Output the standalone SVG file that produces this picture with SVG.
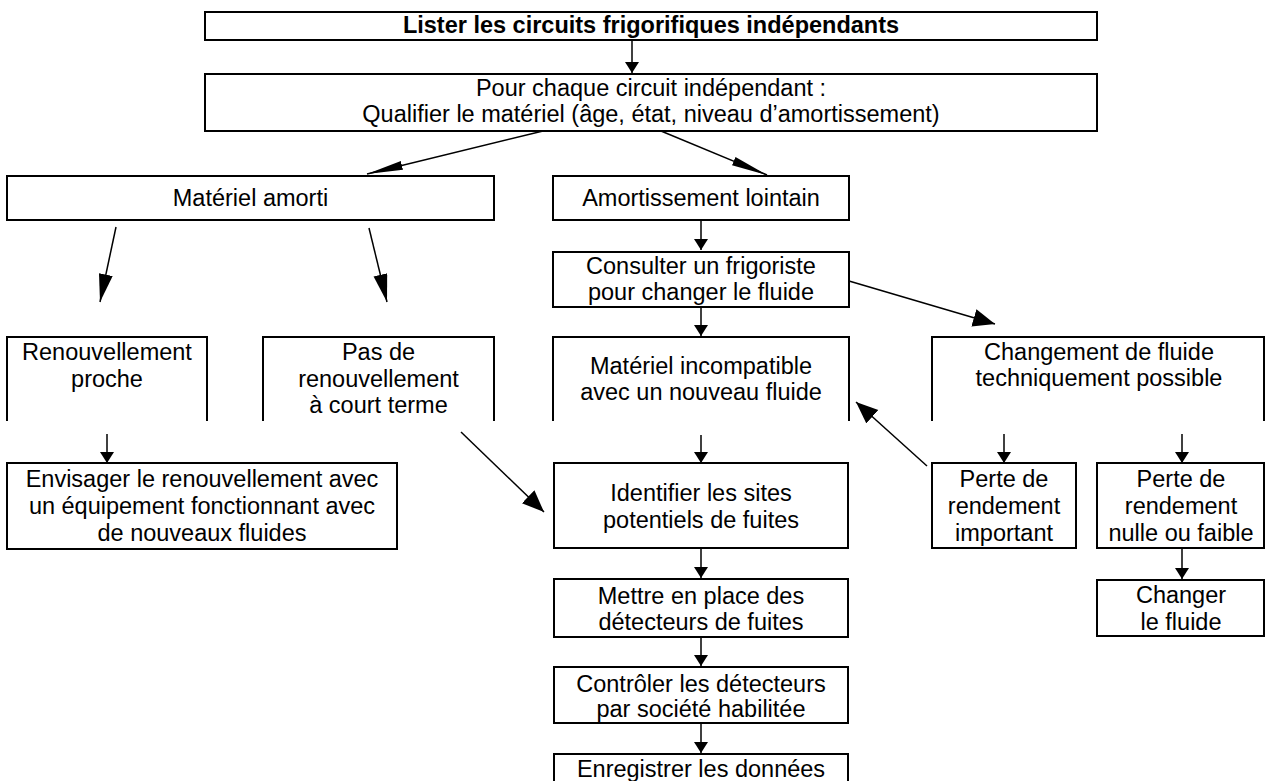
<svg xmlns="http://www.w3.org/2000/svg" width="1266" height="781" viewBox="0 0 1266 781">
<style>
.box{fill:#fff;stroke:#000;stroke-width:2}
.open{fill:none;stroke:#000;stroke-width:2}
.t{font-family:"Liberation Sans",Arial,sans-serif;font-size:23.5px;fill:#000;text-anchor:middle}
.b{font-weight:bold}
.c{stroke:#000;stroke-width:1.5;fill:none}
</style>
<defs>
<marker id="ms" markerUnits="userSpaceOnUse" markerWidth="12" markerHeight="16" refX="11" refY="7" orient="auto"><path d="M0,0 L11,7 L0,14 Z" fill="#000"/></marker>
<marker id="mb" markerUnits="userSpaceOnUse" markerWidth="24" markerHeight="20" refX="22" refY="9" orient="auto"><path d="M0,0 L22,9 L0,18 Z" fill="#000"/></marker>
<marker id="ml" markerUnits="userSpaceOnUse" markerWidth="30" markerHeight="16" refX="28" refY="7" orient="auto"><path d="M0,0 L28,7 L0,14 Z" fill="#000"/></marker>
<marker id="mt" markerUnits="userSpaceOnUse" markerWidth="38" markerHeight="12" refX="36" refY="4.5" orient="auto"><path d="M0,0 L36,4.5 L0,9 Z" fill="#000"/></marker>
</defs>
<rect width="1266" height="781" fill="#fff"/>
<g id="connectors">
<line class="c" x1="632" y1="40" x2="632" y2="73" marker-end="url(#ms)"/>
<line class="c" x1="543" y1="131" x2="367" y2="174" marker-end="url(#mt)"/>
<line class="c" x1="661" y1="131" x2="767" y2="175" marker-end="url(#mt)"/>
<line class="c" x1="116" y1="227" x2="100" y2="302" marker-end="url(#ml)"/>
<line class="c" x1="369" y1="228" x2="387" y2="302" marker-end="url(#ml)"/>
<line class="c" x1="701" y1="220" x2="701" y2="250" marker-end="url(#ms)"/>
<line class="c" x1="701" y1="307" x2="701" y2="336" marker-end="url(#ms)"/>
<line class="c" x1="849" y1="281" x2="995" y2="324" marker-end="url(#mb)"/>
<line class="c" x1="107" y1="434" x2="107" y2="463" marker-end="url(#ms)"/>
<line class="c" x1="461" y1="432" x2="544" y2="512" marker-end="url(#mb)"/>
<line class="c" x1="701" y1="435" x2="701" y2="463" marker-end="url(#ms)"/>
<line class="c" x1="927" y1="466" x2="856" y2="402" marker-end="url(#mb)"/>
<line class="c" x1="1004" y1="434" x2="1004" y2="463" marker-end="url(#ms)"/>
<line class="c" x1="1182" y1="434" x2="1182" y2="463" marker-end="url(#ms)"/>
<line class="c" x1="1182" y1="548" x2="1182" y2="579" marker-end="url(#ms)"/>
<line class="c" x1="701" y1="548" x2="701" y2="578" marker-end="url(#ms)"/>
<line class="c" x1="701" y1="637" x2="701" y2="666" marker-end="url(#ms)"/>
<line class="c" x1="701" y1="723" x2="701" y2="753" marker-end="url(#ms)"/>
</g>
<g id="n-lister"><rect class="box" x="205" y="12" width="892" height="28"/><text class="t b" x="651" y="33">Lister les circuits frigorifiques indépendants</text></g>
<g id="n-qualifier"><rect class="box" x="205" y="74" width="892" height="57"/><text class="t" x="651" y="96">Pour chaque circuit indépendant :</text><text class="t" x="651" y="122">Qualifier le matériel (âge, état, niveau d’amortissement)</text></g>
<g id="n-amorti"><rect class="box" x="7" y="176" width="487" height="44"/><text class="t" x="250.5" y="206">Matériel amorti</text></g>
<g id="n-lointain"><rect class="box" x="553" y="176" width="296" height="44"/><text class="t" x="701" y="206">Amortissement lointain</text></g>
<g id="n-consulter"><rect class="box" x="553" y="252" width="296" height="55"/><text class="t" x="701" y="274">Consulter un frigoriste</text><text class="t" x="701" y="300">pour changer le fluide</text></g>
<g id="n-proche"><path class="open" d="M7,421 V337 H207 V421"/><text class="t" x="107" y="360">Renouvellement</text><text class="t" x="107" y="387">proche</text></g>
<g id="n-pasde"><path class="open" d="M263,421 V337 H494 V421"/><text class="t" x="378.5" y="360">Pas de</text><text class="t" x="378.5" y="387">renouvellement</text><text class="t" x="378.5" y="413">à court terme</text></g>
<g id="n-incompatible"><path class="open" d="M553,421 V337 H849 V421"/><text class="t" x="701" y="374">Matériel incompatible</text><text class="t" x="701" y="400">avec un nouveau fluide</text></g>
<g id="n-changement"><path class="open" d="M932,421 V337 H1264 V421"/><text class="t" x="1099" y="360">Changement de fluide</text><text class="t" x="1099" y="386">techniquement possible</text></g>
<g id="n-envisager"><rect class="box" x="7" y="463" width="390" height="86"/><text class="t" x="202" y="487">Envisager le renouvellement avec</text><text class="t" x="202" y="514">un équipement fonctionnant avec</text><text class="t" x="202" y="541">de nouveaux fluides</text></g>
<g id="n-identifier"><rect class="box" x="554" y="463" width="294" height="85"/><text class="t" x="701" y="501">Identifier les sites</text><text class="t" x="701" y="528">potentiels de fuites</text></g>
<g id="n-important"><rect class="box" x="932" y="463" width="144" height="85"/><text class="t" x="1004" y="487">Perte de</text><text class="t" x="1004" y="514">rendement</text><text class="t" x="1004" y="541">important</text></g>
<g id="n-nulle"><rect class="box" x="1097" y="463" width="167" height="85"/><text class="t" x="1181" y="487">Perte de</text><text class="t" x="1181" y="514">rendement</text><text class="t" x="1181" y="541">nulle ou faible</text></g>
<g id="n-changer"><rect class="box" x="1097" y="580" width="167" height="56"/><text class="t" x="1181" y="603">Changer</text><text class="t" x="1181" y="630">le fluide</text></g>
<g id="n-mettre"><rect class="box" x="554" y="579" width="294" height="58"/><text class="t" x="701" y="604">Mettre en place des</text><text class="t" x="701" y="630">détecteurs de fuites</text></g>
<g id="n-controler"><rect class="box" x="554" y="667" width="294" height="56"/><text class="t" x="701" y="692">Contrôler les détecteurs</text><text class="t" x="701" y="717">par société habilitée</text></g>
<g id="n-enregistrer"><path class="open" d="M554,790 V754 H848 V790"/><text class="t" x="701" y="777">Enregistrer les données</text></g>
</svg>
